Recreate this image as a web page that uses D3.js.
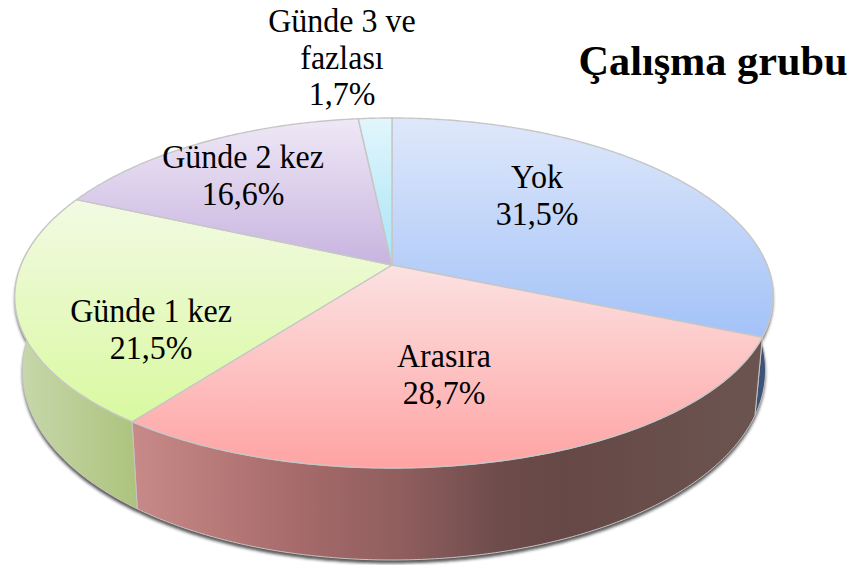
<!DOCTYPE html>
<html><head><meta charset="utf-8">
<script src="https://cdn.jsdelivr.net/npm/d3@7/dist/d3.min.js"></script>
<style>html,body{margin:0;padding:0;background:#fff}svg{display:block}</style>
</head><body><svg id="c" width="858" height="565"></svg>
<script>
const categories = ["Yok","Arasıra","Günde 1 kez","Günde 2 kez","Günde 3 ve fazlası"];
const values = [31.5,28.7,21.5,16.6,1.7];
const valueLabels = ["31,5%","28,7%","21,5%","16,6%","1,7%"];
const labelLines = [["Yok"],["Arasıra"],["Günde 1 kez"],["Günde 2 kez"],["Günde 3 ve","fazlası"]];
const title = "Çalışma grubu";

// layout (kept apart from the data)
const labelX = [537,444,151,243,342];
const labelFirstBaseline = [188,367,322,168,32];
const lineStep = 36.5;
const textStretch = 1.08;
const topStops = [["#dfe8fa","#a3c2f8"],["#fce2e2","#ffa3a3"],["#f2fae3","#d9f9a0"],["#efe8f6","#c8b4e0"],["#e2f6fc","#a8e4f6"]];
const sideStops = [
  [[740,"#3d5378"],[780,"#3d5378"]],
  [[133,"#c88a88"],[300,"#a66a6a"],[400,"#905e5e"],[500,"#6e4c4c"],[560,"#664846"],[750,"#6b5450"]],
  [[15,"#c8d8ac"],[133,"#adc47f"]]
];
const P = {cx:392,cy:265,R:373,H:170.5,kx:0.18,ky:0.16,e:2,bx:0.98,by:1.106,bc:335.5};

const svg = d3.select("#c");
const defs = svg.append("defs");
const blur = defs.append("filter").attr("id","sh").attr("x","-5%").attr("y","-5%").attr("width","110%").attr("height","110%");
blur.append("feGaussianBlur").attr("stdDeviation",1.8);

const arcs = d3.pie().sort(null).startAngle(0).endAngle(2*Math.PI)(values);

function topPt(a){
  const sx = 1/(1+P.kx*Math.cos(a)), sy = 1/(1+P.ky*Math.cos(a));
  return [P.cx+P.R*Math.sin(a)*sx+P.e*Math.sin(a)*Math.sin(a), P.cy-P.H*Math.cos(a)*sy];
}
function botPt(a){
  const [x,y] = topPt(a);
  return [P.cx+(x-P.cx)*P.bx, P.bc+P.by*(y-P.cy)];
}
function samples(a0,a1){
  const n = Math.max(2,Math.ceil((a1-a0)/0.01));
  return d3.range(n+1).map(i=>a0+(a1-a0)*i/n);
}
const line = d3.line();

// ground shadow following the lower rim
const shAngles = samples(Math.PI*0.42,Math.PI*1.6);
const shadowPts = shAngles.map(topPt).concat(shAngles.slice().reverse().map(botPt));
svg.append("path").attr("d",line(shadowPts)+"Z").attr("fill","#222").attr("opacity",0.75)
  .attr("transform","translate(0,3.5)").attr("filter","url(#sh)");

// sides
const sideDefs = [
  {i:0,a0:Math.PI*0.46,a1:arcs[0].endAngle},
  {i:1,a0:arcs[1].startAngle,a1:arcs[1].endAngle},
  {i:2,a0:arcs[2].startAngle,a1:Math.PI*1.58}
];
sideDefs.forEach((sd,j)=>{
  const stops = sideStops[j];
  const x0 = stops[0][0], x1 = stops[stops.length-1][0];
  const g = defs.append("linearGradient").attr("id","side"+j).attr("gradientUnits","userSpaceOnUse")
    .attr("x1",x0).attr("x2",x1).attr("y1",0).attr("y2",0);
  stops.forEach(s=>g.append("stop").attr("offset",(s[0]-x0)/(x1-x0)).attr("stop-color",s[1]));
  const as = samples(sd.a0,sd.a1);
  const pts = as.map(topPt).concat(as.slice().reverse().map(botPt));
  svg.append("path").attr("d",line(pts)+"Z").attr("fill","url(#side"+j+")")
    .attr("stroke","#c9c4c4").attr("stroke-width",1).attr("stroke-linejoin","round");
});

// top faces
arcs.forEach((d,i)=>{
  const g = defs.append("linearGradient").attr("id","top"+i).attr("x1",0).attr("x2",0).attr("y1",0).attr("y2",1);
  g.append("stop").attr("offset",0).attr("stop-color",topStops[i][0]);
  g.append("stop").attr("offset",1).attr("stop-color",topStops[i][1]);
  const pts = [[P.cx,P.cy]].concat(samples(d.startAngle,d.endAngle).map(topPt));
  svg.append("path").attr("d",line(pts)+"Z").attr("fill","url(#top"+i+")")
    .attr("stroke","#c6c6c6").attr("stroke-width",1.4).attr("stroke-linejoin","round");
});

// labels
const font = "'Liberation Serif','Times New Roman',serif";
categories.forEach((c,i)=>{
  const lines = labelLines[i].concat([valueLabels[i]]);
  lines.forEach((t,k)=>{
    svg.append("text")
      .attr("transform",`translate(${labelX[i]},${labelFirstBaseline[i]+k*lineStep}) scale(1,${textStretch})`)
      .attr("text-anchor","middle").attr("font-family",font).attr("font-size",32)
      .attr("fill","#000").text(t);
  });
});
svg.append("text").attr("x",713).attr("y",75).attr("text-anchor","middle")
  .attr("font-family",font).attr("font-size",42.3).attr("font-weight","bold").attr("fill","#000").text(title);
</script></body></html>
